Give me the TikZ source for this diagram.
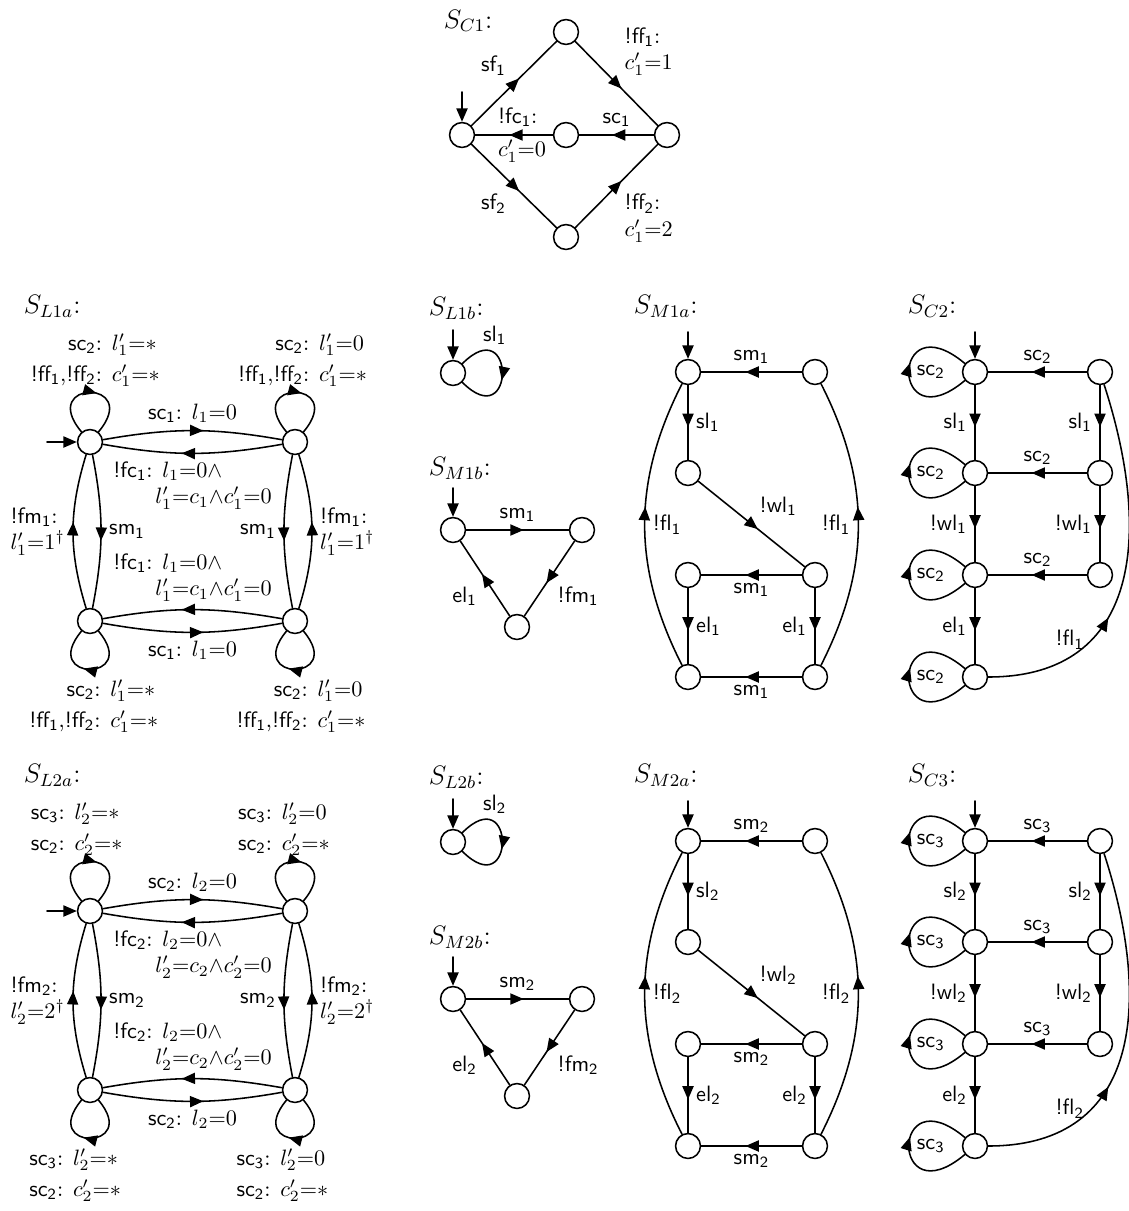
\documentclass[tikz,border=0pt]{standalone}
\usetikzlibrary{arrows.meta,decorations.markings}
\newcommand{\act}[2]{\textsf{#1\textsubscript{#2}}}
\begin{document}
\begin{tikzpicture}[x=0.45pt,y=-0.45pt,line cap=round,line join=round,line width=0.7pt,
	>={Triangle[length=6pt,width=5pt]},
	loc/.style={circle,draw,minimum size=11.2pt,inner sep=0pt},
	mid/.style={postaction={decorate,decoration={markings,mark=at position #1 with {\arrow{>}}}}},
	mid/.default=0.56,
	ttl/.style={font=\large,anchor=base west,inner sep=0pt},
	uplbl/.style={anchor=south west,inner sep=1pt,xshift=-28pt},
	dnlbl/.style={anchor=north west,xshift=-31pt}]
	\useasboundingbox (0,0) rectangle (1128,1211);
	% S_C1
	\node[ttl] at (443,28) {$S_{C1}$:};
	\node[loc] (c1l) at (462,135) {};
	\node[loc] (c1t) at (566,32) {};
	\node[loc] (c1m) at (566,135) {};
	\node[loc] (c1r) at (667,135) {};
	\node[loc] (c1b) at (566,237) {};
	\coordinate (c1in) at (462,92);
	\draw[->] (c1in) -- (c1l);
	\draw[mid] (c1l) -- node[above left] {\act{sf}{1}} (c1t);
	\draw[mid] (c1t) -- node[above right,align=left] {\act{!ff}{1}:\\$c'_1{=}1$} (c1r);
	\draw[mid] (c1r) -- node[above] {\act{sc}{1}} (c1m);
	\draw[mid] (c1m) -- node[align=left,xshift=3.6pt] {\act{!fc}{1}:\\[3pt]$c'_1{=}0$} (c1l);
	\draw[mid] (c1l) -- node[below left] {\act{sf}{2}} (c1b);
	\draw[mid] (c1b) -- node[below right,align=left] {\act{!ff}{2}:\\$c'_1{=}2$} (c1r);
	% S_L1a
	\node[ttl] at (23,313) {$S_{L1a}$:};
	\node[loc] (la1) at (90,442) {};
	\node[loc] (la2) at (295,442) {};
	\node[loc] (la3) at (90,621) {};
	\node[loc] (la4) at (295,621) {};
	\coordinate (lain) at (47,442);
	\draw[->] (lain) -- (la1);
	\draw[mid] (la1) to[bend left=10] node[above] {\act{sc}{1}: $l_1{=}0$} (la2);
	\draw[mid] (la2) to[bend left=10] node[below,align=left] {\act{!fc}{1}: $l_1{=}0{\wedge}$\\\hspace*{19pt}$l'_1{=}c_1{\wedge}c'_1{=}0$} (la1);
	\draw[mid] (la4) to[bend right=10] node[above,align=left] {\act{!fc}{1}: $l_1{=}0{\wedge}$\\\hspace*{19pt}$l'_1{=}c_1{\wedge}c'_1{=}0$} (la3);
	\draw[mid] (la3) to[bend right=10] node[below] {\act{sc}{1}: $l_1{=}0$} (la4);
	\draw[mid] (la3) to[bend left=17] node[left,align=left] {\act{!fm}{1}:\\$l'_1{=}1^\dagger$} (la1);
	\draw[mid] (la1) to[bend left=11] node[right] {\act{sm}{1}} (la3);
	\draw[mid] (la2) to[bend right=11] node[left] {\act{sm}{1}} (la4);
	\draw[mid] (la4) to[bend right=17] node[right,align=left] {\act{!fm}{1}:\\$l'_1{=}1^\dagger$} (la2);
	\draw[mid] (la1) to[out=130,in=50,min distance=31pt] node[uplbl] {\begin{tabular}{@{}r@{: }l@{}}\act{sc}{2}&$l'_1{=}*$\\[2pt]\act{!ff}{1},\act{!ff}{2}&$c'_1{=}*$\end{tabular}} (la1);
	\draw[mid] (la2) to[out=130,in=50,min distance=31pt] node[uplbl,xshift=1pt] {\begin{tabular}{@{}r@{: }l@{}}\act{sc}{2}&$l'_1{=}0$\\[2pt]\act{!ff}{1},\act{!ff}{2}&$c'_1{=}*$\end{tabular}} (la2);
	\draw[mid] (la3) to[out=-50,in=-130,min distance=30pt] node[dnlbl] {\begin{tabular}{@{}r@{: }l@{}}\act{sc}{2}&$l'_1{=}*$\\[2pt]\act{!ff}{1},\act{!ff}{2}&$c'_1{=}*$\end{tabular}} (la3);
	\draw[mid] (la4) to[out=-50,in=-130,min distance=30pt] node[dnlbl,xshift=1pt] {\begin{tabular}{@{}r@{: }l@{}}\act{sc}{2}&$l'_1{=}0$\\[2pt]\act{!ff}{1},\act{!ff}{2}&$c'_1{=}*$\end{tabular}} (la4);
	% S_L1b
	\node[ttl] at (428,315) {$S_{L1b}$:};
	\node[loc] (lb1) at (453,373) {};
	\coordinate (lbin) at (453,330);
	\draw[->] (lbin) -- (lb1);
	\draw[mid] (lb1) to[out=45,in=-45,min distance=34pt] node[pos=.28,above] {\act{sl}{1}} (lb1);
	% S_M1b
	\node[ttl] at (428,475) {$S_{M1b}$:};
	\node[loc] (mb1) at (453,530) {};
	\node[loc] (mb2) at (582,530) {};
	\node[loc] (mb3) at (517,627) {};
	\coordinate (mbin) at (453,488);
	\draw[->] (mbin) -- (mb1);
	\draw[mid] (mb1) -- node[above] {\act{sm}{1}} (mb2);
	\draw[mid] (mb2) -- node[below right] {\act{!fm}{1}} (mb3);
	\draw[mid] (mb3) -- node[below left] {\act{el}{1}} (mb1);
	% S_M1a
	\node[ttl] at (633,313) {$S_{M1a}$:};
	\node[loc] (ma1) at (688,372) {};
	\node[loc] (ma2) at (815,372) {};
	\node[loc] (ma3) at (688,473) {};
	\node[loc] (ma4) at (815,575) {};
	\node[loc] (ma5) at (688,575) {};
	\node[loc] (ma6) at (688,677) {};
	\node[loc] (ma7) at (815,677) {};
	\coordinate (main) at (688,332);
	\draw[->] (main) -- (ma1);
	\draw[mid] (ma2) -- node[above] {\act{sm}{1}} (ma1);
	\draw[mid] (ma1) -- node[right] {\act{sl}{1}} (ma3);
	\draw[mid] (ma3) -- node[above right] {\act{!wl}{1}} (ma4);
	\draw[mid] (ma4) -- node[below] {\act{sm}{1}} (ma5);
	\draw[mid] (ma5) -- node[right] {\act{el}{1}} (ma6);
	\draw[mid] (ma4) -- node[left] {\act{el}{1}} (ma7);
	\draw[mid] (ma7) -- node[below] {\act{sm}{1}} (ma6);
	\draw[mid] (ma6) to[bend left=27] node[right] {\act{!fl}{1}} (ma1);
	\draw[mid] (ma7) to[bend right=27] node[left] {\act{!fl}{1}} (ma2);
	% S_C2
	\node[ttl] at (907,313) {$S_{C2}$:};
	\node[loc] (ca1) at (975,372) {};
	\node[loc] (ca2) at (975,473) {};
	\node[loc] (ca3) at (975,575) {};
	\node[loc] (ca4) at (975,677) {};
	\node[loc] (cb1) at (1100,372) {};
	\node[loc] (cb2) at (1100,473) {};
	\node[loc] (cb3) at (1100,575) {};
	\coordinate (cain) at (975,332);
	\draw[->] (cain) -- (ca1);
	\draw[mid] (cb1) -- node[above] {\act{sc}{2}} (ca1);
	\draw[mid] (cb2) -- node[above] {\act{sc}{2}} (ca2);
	\draw[mid] (cb3) -- node[above] {\act{sc}{2}} (ca3);
	\draw[mid] (ca1) -- node[left] {\act{sl}{1}} (ca2);
	\draw[mid] (ca2) -- node[left] {\act{!wl}{1}} (ca3);
	\draw[mid] (ca3) -- node[left] {\act{el}{1}} (ca4);
	\draw[mid] (cb1) -- node[left] {\act{sl}{1}} (cb2);
	\draw[mid] (cb2) -- node[left] {\act{!wl}{1}} (cb3);
	\draw[mid=.37] (ca4) to[out=0,in=-72,looseness=1.25] node[pos=.22,above] {\act{!fl}{1}} (cb1);
	\foreach \n in {ca1,ca2,ca3,ca4}
		\draw[mid] (\n) to[out=-140,in=140,min distance=44pt] node[right] {\act{sc}{2}} (\n);
	% S_L2a
	\node[ttl] at (23,782) {$S_{L2a}$:};
	\node[loc] (lc1) at (90,911) {};
	\node[loc] (lc2) at (295,911) {};
	\node[loc] (lc3) at (90,1090) {};
	\node[loc] (lc4) at (295,1090) {};
	\coordinate (lcin) at (47,911);
	\draw[->] (lcin) -- (lc1);
	\draw[mid] (lc1) to[bend left=10] node[above] {\act{sc}{2}: $l_2{=}0$} (lc2);
	\draw[mid] (lc2) to[bend left=10] node[below,align=left] {\act{!fc}{2}: $l_2{=}0{\wedge}$\\\hspace*{19pt}$l'_2{=}c_2{\wedge}c'_2{=}0$} (lc1);
	\draw[mid] (lc4) to[bend right=10] node[above,align=left] {\act{!fc}{2}: $l_2{=}0{\wedge}$\\\hspace*{19pt}$l'_2{=}c_2{\wedge}c'_2{=}0$} (lc3);
	\draw[mid] (lc3) to[bend right=10] node[below] {\act{sc}{2}: $l_2{=}0$} (lc4);
	\draw[mid] (lc3) to[bend left=17] node[left,align=left] {\act{!fm}{2}:\\$l'_2{=}2^\dagger$} (lc1);
	\draw[mid] (lc1) to[bend left=11] node[right] {\act{sm}{2}} (lc3);
	\draw[mid] (lc2) to[bend right=11] node[left] {\act{sm}{2}} (lc4);
	\draw[mid] (lc4) to[bend right=17] node[right,align=left] {\act{!fm}{2}:\\$l'_2{=}2^\dagger$} (lc2);
	\draw[mid] (lc1) to[out=130,in=50,min distance=31pt] node[uplbl] {\begin{tabular}{@{}r@{: }l@{}}\act{sc}{3}&$l'_2{=}*$\\[2pt]\act{sc}{2}&$c'_2{=}*$\end{tabular}} (lc1);
	\draw[mid] (lc2) to[out=130,in=50,min distance=31pt] node[uplbl,xshift=1pt] {\begin{tabular}{@{}r@{: }l@{}}\act{sc}{3}&$l'_2{=}0$\\[2pt]\act{sc}{2}&$c'_2{=}*$\end{tabular}} (lc2);
	\draw[mid] (lc3) to[out=-50,in=-130,min distance=30pt] node[dnlbl] {\begin{tabular}{@{}r@{: }l@{}}\act{sc}{3}&$l'_2{=}*$\\[2pt]\act{sc}{2}&$c'_2{=}*$\end{tabular}} (lc3);
	\draw[mid] (lc4) to[out=-50,in=-130,min distance=30pt] node[dnlbl,xshift=1pt] {\begin{tabular}{@{}r@{: }l@{}}\act{sc}{3}&$l'_2{=}0$\\[2pt]\act{sc}{2}&$c'_2{=}*$\end{tabular}} (lc4);
	% S_L2b
	\node[ttl] at (428,784) {$S_{L2b}$:};
	\node[loc] (ld1) at (453,842) {};
	\coordinate (ldin) at (453,799);
	\draw[->] (ldin) -- (ld1);
	\draw[mid] (ld1) to[out=45,in=-45,min distance=34pt] node[pos=.28,above] {\act{sl}{2}} (ld1);
	% S_M2b
	\node[ttl] at (428,944) {$S_{M2b}$:};
	\node[loc] (md1) at (453,999) {};
	\node[loc] (md2) at (582,999) {};
	\node[loc] (md3) at (517,1096) {};
	\coordinate (mdin) at (453,957);
	\draw[->] (mdin) -- (md1);
	\draw[mid] (md1) -- node[above] {\act{sm}{2}} (md2);
	\draw[mid] (md2) -- node[below right] {\act{!fm}{2}} (md3);
	\draw[mid] (md3) -- node[below left] {\act{el}{2}} (md1);
	% S_M2a
	\node[ttl] at (633,782) {$S_{M2a}$:};
	\node[loc] (mc1) at (688,841) {};
	\node[loc] (mc2) at (815,841) {};
	\node[loc] (mc3) at (688,942) {};
	\node[loc] (mc4) at (815,1044) {};
	\node[loc] (mc5) at (688,1044) {};
	\node[loc] (mc6) at (688,1146) {};
	\node[loc] (mc7) at (815,1146) {};
	\coordinate (mcin) at (688,801);
	\draw[->] (mcin) -- (mc1);
	\draw[mid] (mc2) -- node[above] {\act{sm}{2}} (mc1);
	\draw[mid] (mc1) -- node[right] {\act{sl}{2}} (mc3);
	\draw[mid] (mc3) -- node[above right] {\act{!wl}{2}} (mc4);
	\draw[mid] (mc4) -- node[below] {\act{sm}{2}} (mc5);
	\draw[mid] (mc5) -- node[right] {\act{el}{2}} (mc6);
	\draw[mid] (mc4) -- node[left] {\act{el}{2}} (mc7);
	\draw[mid] (mc7) -- node[below] {\act{sm}{2}} (mc6);
	\draw[mid] (mc6) to[bend left=27] node[right] {\act{!fl}{2}} (mc1);
	\draw[mid] (mc7) to[bend right=27] node[left] {\act{!fl}{2}} (mc2);
	% S_C3
	\node[ttl] at (907,782) {$S_{C3}$:};
	\node[loc] (cc1) at (975,841) {};
	\node[loc] (cc2) at (975,942) {};
	\node[loc] (cc3) at (975,1044) {};
	\node[loc] (cc4) at (975,1146) {};
	\node[loc] (cd1) at (1100,841) {};
	\node[loc] (cd2) at (1100,942) {};
	\node[loc] (cd3) at (1100,1044) {};
	\coordinate (ccin) at (975,801);
	\draw[->] (ccin) -- (cc1);
	\draw[mid] (cd1) -- node[above] {\act{sc}{3}} (cc1);
	\draw[mid] (cd2) -- node[above] {\act{sc}{3}} (cc2);
	\draw[mid] (cd3) -- node[above] {\act{sc}{3}} (cc3);
	\draw[mid] (cc1) -- node[left] {\act{sl}{2}} (cc2);
	\draw[mid] (cc2) -- node[left] {\act{!wl}{2}} (cc3);
	\draw[mid] (cc3) -- node[left] {\act{el}{2}} (cc4);
	\draw[mid] (cd1) -- node[left] {\act{sl}{2}} (cd2);
	\draw[mid] (cd2) -- node[left] {\act{!wl}{2}} (cd3);
	\draw[mid=.37] (cc4) to[out=0,in=-72,looseness=1.25] node[pos=.22,above] {\act{!fl}{2}} (cd1);
	\foreach \n in {cc1,cc2,cc3,cc4}
		\draw[mid] (\n) to[out=-140,in=140,min distance=44pt] node[right] {\act{sc}{3}} (\n);
\end{tikzpicture}
\end{document}
